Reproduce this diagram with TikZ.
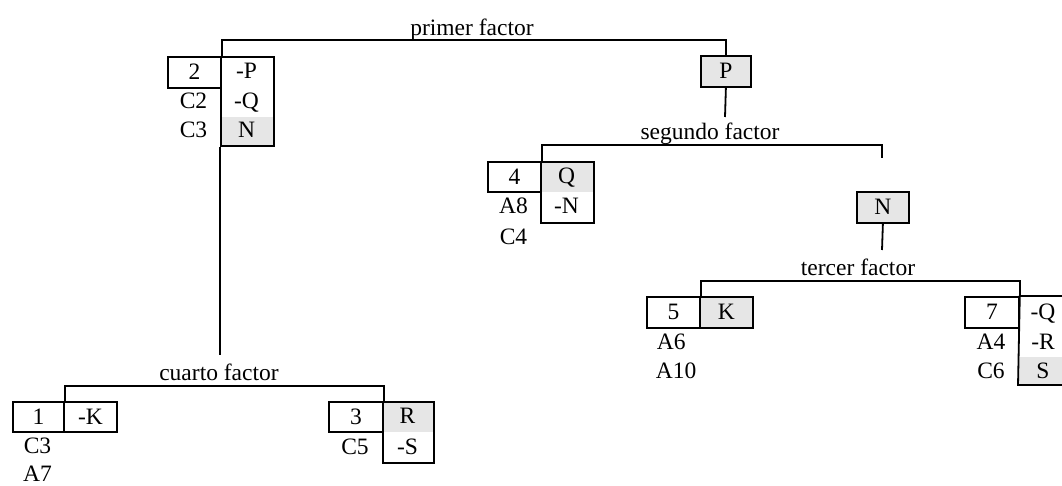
\documentclass[tikz,border=0pt]{standalone}
\usepackage{fontspec}
\setmainfont{Liberation Serif}
\definecolor{shadegray}{HTML}{E6E6E6}
\begin{document}
\begin{tikzpicture}[x=1pt,y=-1pt,
  line width=1.8pt,
  every node/.style={font=\fontsize{23.5}{27}\selectfont},
  cellbox/.style={draw, line width=1.8pt, inner sep=0pt, anchor=north west, text height=15pt, text depth=0pt},
  shadebox/.style={fill=shadegray, draw=none, inner sep=0pt, anchor=north west},
  txt/.style={inner sep=0pt, text height=15pt, text depth=0pt, anchor=center},
  title/.style={inner sep=0pt, text height=15pt, text depth=0pt, anchor=center}]
\useasboundingbox (0,0) rectangle (1062,486);

% ---------- group 2 ----------
\node[shadebox, minimum width=53pt, minimum height=29pt] (s2) at (220,116) {};
\node[cellbox, minimum width=53pt, minimum height=31pt] (n2) at (167,56) {2};
\node[cellbox, minimum width=53pt, minimum height=89pt] (c2) at (220,56) {};
\node[txt] (c2a) at (246.5,71.5) {-P};
\node[txt] (c2b) at (246.5,101.5) {-Q};
\node[txt] (c2c) at (246.5,130.5) {N};
\node[txt] (l2a) at (193.5,101.5) {C2};
\node[txt] (l2b) at (193.5,130.5) {C3};

% ---------- P ----------
\node[cellbox, fill=shadegray, minimum width=50pt, minimum height=31pt] (P) at (700,55) {P};

% ---------- group 4 ----------
\node[shadebox, minimum width=53pt, minimum height=30pt] (s4) at (540,161) {};
\node[cellbox, minimum width=53pt, minimum height=30pt] (n4) at (487,161) {4};
\node[cellbox, minimum width=53pt, minimum height=61pt] (c4) at (540,161) {};
\node[txt] (c4a) at (566.5,176) {Q};
\node[txt] (c4b) at (566.5,206.5) {-N};
\node[txt] (l4a) at (513.5,206.5) {A8};
\node[txt] (l4b) at (513.5,237) {C4};

% ---------- N ----------
\node[cellbox, fill=shadegray, minimum width=52pt, minimum height=31pt] (N) at (856,191) {N};

% ---------- group 5 ----------
\node[cellbox, minimum width=53pt, minimum height=31pt] (n5) at (646,296) {5};
\node[cellbox, fill=shadegray, minimum width=53pt, minimum height=31pt] (k5) at (699,296) {K};
\node[txt, anchor=west] (l5a) at (656,341.5) {A6};
\node[txt, anchor=west] (l5b) at (655,370.5) {A10};

% ---------- group 7 ----------
\node[shadebox, minimum width=44pt, minimum height=29pt] (s7) at (1018,356) {};
\node[cellbox, minimum width=54pt, minimum height=31pt] (n7) at (964,296) {7};
\draw (1062,296) -- (n7.north east) -- (1018,385) -- (1062,385);
\node[txt] (c7a) at (1043,311.5) {-Q};
\node[txt] (c7b) at (1043,341.5) {-R};
\node[txt] (c7c) at (1043,370.5) {S};
\node[txt] (l7a) at (991,341.5) {A4};
\node[txt] (l7b) at (991,370.5) {C6};

% ---------- group 1 ----------
\node[cellbox, minimum width=51pt, minimum height=30pt] (n1) at (12,401) {1};
\node[cellbox, minimum width=53pt, minimum height=30pt] (k1) at (63,401) {-K};
\node[txt] (l1a) at (37.5,446) {C3};
\node[txt] (l1b) at (37.5,474) {A7};

% ---------- group 3 ----------
\node[shadebox, minimum width=51pt, minimum height=30pt] (s3) at (382,401) {};
\node[cellbox, minimum width=54pt, minimum height=30pt] (n3) at (328,401) {3};
\node[cellbox, minimum width=51pt, minimum height=61pt] (c3) at (382,401) {};
\node[txt] (c3a) at (407.5,416) {R};
\node[txt] (c3b) at (407.5,446.5) {-S};
\node[txt] (l3a) at (355,446.5) {C5};

% ---------- titles ----------
\node[title] (t1) at (472,28) {primer factor};
\node[title] (t2) at (710,132) {segundo factor};
\node[title] (t3) at (858,268) {tercer factor};
\node[title] (t4) at (219,373) {cuarto factor};

% ---------- connectors ----------
\coordinate (j1) at (472,40);
\coordinate (p2) at (725,117);
\coordinate (j2) at (710,145);
\coordinate (nTop) at (882,158);
\coordinate (nBot) at (882,250);
\coordinate (j3) at (858,281);
\coordinate (k4) at (220,355);
\coordinate (j4) at (222,386);

\draw (n2.north east) |- (j1) -| (P.north);
\draw (P.south) -- (p2);
\draw (n4.north east) |- (j2) -| (nTop);
\draw (N.south) -- (nBot);
\draw (n5.north east) |- (j3) -| (n7.north east);
\draw (c2.south west) -- (k4);
\draw (n1.north east) |- (j4) -| (n3.north east);
\end{tikzpicture}
\end{document}
